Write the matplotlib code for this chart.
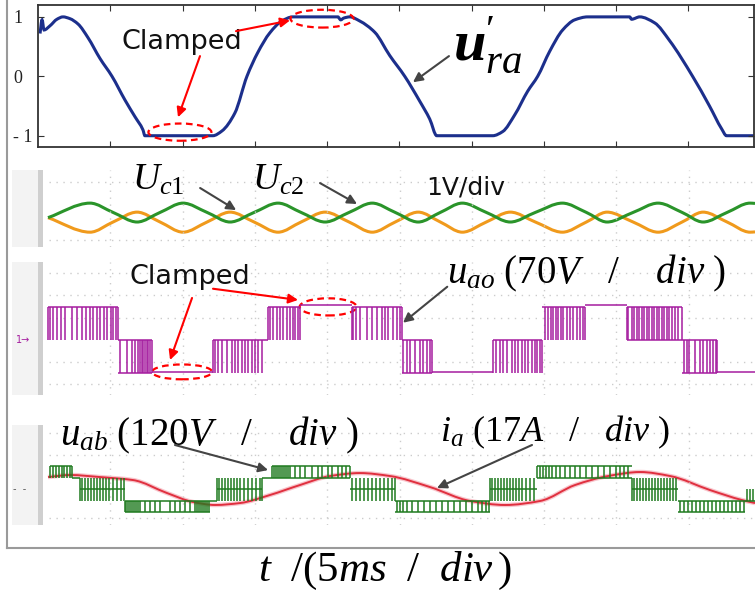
import numpy as np
import matplotlib
matplotlib.use('Agg')
import matplotlib.pyplot as plt
from matplotlib.path import Path
from matplotlib.patches import PathPatch, Ellipse
from matplotlib.lines import Line2D
from matplotlib.transforms import ScaledTranslation

# --- fonts ---
plt.rcParams.update({
    'mathtext.fontset': 'custom',
    'mathtext.rm': 'Liberation Serif',
    'mathtext.it': 'Liberation Serif:italic',
    'mathtext.bf': 'Liberation Serif:bold:italic',
})

# --- data (time in ms, 5 ms / div) ---
# top: modulation reference u'_ra (p.u.)
TOP_T = [0.14, 0.28, 0.42, 0.83, 1.31, 1.73, 2.21, 2.77, 3.46, 4.29,
         5.12, 6.02, 6.71, 7.26, 7.40, 12.10, 12.73, 13.62, 14.46, 15.21,
         16.04, 16.87, 17.63, 20.75, 20.95, 21.16, 21.58, 22.27, 23.31, 24.34,
         25.38, 26.42, 27.11, 27.60, 31.47, 32.16, 32.99, 33.89, 34.58, 35.41,
         36.31, 37.14, 38.04, 40.94, 41.08, 41.64, 42.67, 43.71, 45.30, 46.47,
         47.30, 47.65, 49.58]
TOP_U = [0.72, 0.95, 0.78, 0.85, 0.96, 1.0, 0.97, 0.88, 0.65, 0.30,
         0.0, -0.40, -0.68, -0.90, -1.0, -1.0, -0.92, -0.62, 0.0, 0.40,
         0.73, 0.93, 1.0, 1.0, 0.95, 0.98, 1.0, 0.93, 0.74, 0.35,
         0.0, -0.42, -0.72, -1.0, -1.0, -0.93, -0.65, -0.25, 0.0, 0.42,
         0.78, 0.95, 1.0, 1.0, 0.96, 1.0, 0.90, 0.60, 0.0, -0.50,
         -0.88, -1.0, -1.0]

# capacitor voltage ripple (extrema / mid points)
UC_T = [0.69, 3.60, 5.19, 6.85, 8.44, 10.03, 11.69, 13.28, 14.94, 16.60,
        18.19, 19.85, 21.51, 23.11, 24.70, 26.29, 27.82, 29.34, 31.00, 32.66,
        34.39, 36.26, 37.92, 39.35, 41.15, 42.88, 44.54, 45.99, 47.65, 49.24, 49.58]
UC1 = [-0.02, 0.48, 0.16, -0.17, 0.16, 0.48, 0.16, -0.17, 0.16, 0.48,
       0.16, -0.17, 0.16, 0.48, 0.16, -0.17, 0.16, 0.48, 0.16, -0.17,
       0.16, 0.48, 0.16, -0.17, 0.16, 0.48, 0.16, -0.17, 0.16, 0.48, 0.47]
UC2 = [-0.02, -0.52, -0.17, 0.17, -0.17, -0.52, -0.17, 0.17, -0.17, -0.52,
       -0.17, 0.17, -0.17, -0.52, -0.17, 0.17, -0.17, -0.52, -0.17, 0.17,
       -0.17, -0.52, -0.17, 0.17, -0.17, -0.52, -0.17, 0.17, -0.17, -0.52, -0.51]

# u_ao: three level pole voltage, segments of switching between two levels
UAO_START = [0.69, 5.53, 7.88, 12.10, 15.56, 15.91, 18.12, 21.72, 25.17, 27.25,
             31.47, 34.85, 37.83, 40.73, 44.54, 46.96]
UAO_END = [5.53, 7.88, 12.10, 15.56, 15.91, 18.12, 21.72, 25.17, 27.25, 31.47,
           34.85, 37.83, 40.73, 44.54, 46.96, 49.58]
UAO_HIGH = [1, 0, -0.97, 0, 0, 1, 1.05, 1, 0, -0.97, 0, 1, 1.05, 1, 0, -0.97]
UAO_LOW = [0, -1, -0.97, -1, 0, 0, 1.05, 0, -1, -0.97, -1, 0, 1.05, 0, -1, -0.97]
UAO_BASE = [[1], [0, -1], [-0.97], [0], [0], [1], [1.05], [1], [0, -1], [-0.97],
            [0], [1], [1.05], [1, 0], [0, -1], [-0.97]]
UAO_PULSES = [
    [0.69, 0.83, 1.04, 1.31, 1.59, 1.87, 2.35, 2.70, 3.04, 3.32, 3.60, 3.80, 4.08,
     4.29, 4.57, 4.77, 5.05, 5.19, 5.40, 5.53],
    [5.67, 6.15, 6.50, 6.71, 6.92, 7.05, 7.19, 7.26, 7.40, 7.54, 7.61, 7.75, 7.88],
    [],
    [12.10, 12.24, 12.45, 12.73, 13.07, 13.42, 13.62, 13.83, 14.11, 14.32, 14.53,
     14.80, 15.01, 15.22, 15.49],
    [],
    [15.91, 16.04, 16.25, 16.53, 16.74, 16.94, 17.22, 17.43, 17.64, 17.77, 17.98, 18.12],
    [],
    [21.72, 21.78, 21.99, 22.27, 22.75, 23.10, 23.44, 23.79, 23.99, 24.20, 24.55,
     24.83, 25.03, 25.17],
    [25.24, 25.52, 25.73, 26.07, 26.42, 26.63, 26.90, 27.11, 27.25],
    [],
    [31.47, 31.67, 31.95, 32.16, 32.44, 32.78, 32.99, 33.19, 33.47, 33.68, 33.89,
     34.16, 34.37, 34.51, 34.72, 34.85],
    [35.06, 35.27, 35.48, 35.61, 35.82, 35.96, 36.17, 36.31, 36.58, 36.79, 37.00,
     37.28, 37.48, 37.69, 37.83],
    [],
    [40.73, 40.80, 41.08, 41.22, 41.42, 41.56, 41.77, 41.91, 42.12, 42.26, 42.47,
     42.60, 42.81, 42.95, 43.16, 43.30, 43.50, 43.64, 43.85, 44.06, 44.26, 44.54],
    [44.67, 44.88, 45.02, 45.43, 45.78, 45.99, 46.27, 46.47, 46.68, 46.89, 46.96],
    [],
]

# u_ab: five level line voltage
UAB_START = [0.83, 2.35, 2.90, 6.02, 11.90, 12.38, 15.49, 16.18, 21.58, 24.69,
             31.26, 34.51, 41.08, 44.26, 48.89]
UAB_END = [2.35, 2.90, 6.02, 11.90, 12.38, 15.49, 16.18, 21.58, 24.69, 31.26,
           34.51, 41.08, 44.26, 48.89, 49.58]
UAB_HIGH = [2, 1, 1, -1, -1, 1, 1, 2, 1, -1, 1, 2, 1, -1, 0]
UAB_LOW = [1, 1, -1, -2, -1, -1, 1, 1, -1, -2, -1, 1, -1, -2, -1]
UAB_BASE = [[2], [1], [0], [-1, -2], [-1], [0], [1], [2, 1], [0], [-1, -2],
            [0], [2, 1], [0], [-1, -2], [-1]]
UAB_PULSES = [
    [0.83, 1.04, 1.25, 1.45, 1.66, 1.80, 2.01, 2.21, 2.35],
    [],
    [2.90, 3.04, 3.25, 3.46, 3.67, 3.87, 4.08, 4.29, 4.50, 4.70, 4.91, 5.19, 5.46,
     5.74, 5.95],
    [6.02, 6.09, 6.23, 6.36, 6.50, 6.64, 6.78, 6.92, 7.05, 7.40, 7.75, 8.09, 8.44,
     9.13, 9.47, 9.82, 10.17, 10.51, 10.86, 10.99, 11.13, 11.27, 11.41, 11.55,
     11.69, 11.83],
    [],
    [12.38, 12.52, 12.73, 12.93, 13.14, 13.35, 13.55, 13.76, 13.97, 14.25, 14.53,
     14.80, 15.08, 15.36, 15.49],
    [],
    [16.18, 16.32, 16.46, 16.60, 16.74, 16.87, 17.01, 17.15, 17.29, 17.43, 17.77,
     18.12, 18.46, 18.95, 19.36, 19.64, 20.06, 20.33, 20.75, 21.03, 21.30, 21.58],
    [21.72, 21.99, 22.27, 22.55, 22.82, 23.10, 23.38, 23.65, 23.93, 24.20, 24.48, 24.69],
    [24.83, 25.03, 25.24, 25.52, 25.86, 26.28, 26.69, 27.11, 27.52, 27.94, 28.36,
     28.77, 29.18, 29.60, 30.01, 30.43, 30.71, 30.98, 31.19],
    [31.26, 31.40, 31.60, 31.81, 32.02, 32.23, 32.43, 32.64, 32.85, 33.06, 33.26,
     33.47, 33.75, 34.02, 34.30],
    [34.51, 34.72, 34.92, 35.13, 35.34, 35.55, 35.82, 36.10, 36.45, 36.79, 37.14,
     37.48, 37.90, 38.31, 38.73, 39.14, 39.56, 39.97, 40.25, 40.52, 40.80],
    [41.08, 41.22, 41.42, 41.63, 41.84, 42.05, 42.26, 42.46, 42.67, 42.88, 43.08,
     43.29, 43.50, 43.71, 43.91, 44.12],
    [44.40, 44.67, 44.95, 45.23, 45.50, 45.78, 46.06, 46.33, 46.61, 46.89, 47.16,
     47.44, 47.72, 47.99, 48.27, 48.55, 48.82],
    [49.03, 49.24, 49.45],
]

# phase current i_a (divisions)
IA_T = [0.69, 2.21, 4.29, 6.57, 8.92, 10.72, 12.24, 13.97, 16.04, 18.12,
        20.19, 22.27, 24.34, 27.11, 29.88, 32.30, 34.72, 37.14, 39.42, 41.64,
        43.71, 46.47, 48.68, 49.58]
IA = [1.04, 1.22, 1.04, 0.78, -0.35, -1.13, -1.39, -1.22, -0.52, 0.35,
      1.13, 1.39, 1.13, 0.17, -1.04, -1.39, -1.04, 0.35, 1.13, 1.48,
      1.13, -0.09, -0.96, -1.22]

GRID_T = [5, 10, 15, 20, 25, 30, 35, 40, 45]


def px_rect(x0, y0, x1, y1):
    return [x0 / 755, 1 - y1 / 597, (x1 - x0) / 755, (y1 - y0) / 597]


def smooth_line(ax, xs, ys, **kw):
    # monotone cubic (pchip-style) bezier through the read points
    x = np.asarray(xs, float)
    y = np.asarray(ys, float)
    h = np.diff(x)
    d = np.diff(y) / h
    m = np.zeros_like(y)
    m[0], m[-1] = d[0], d[-1]
    for k in range(1, len(x) - 1):
        if d[k - 1] * d[k] > 0:
            w1 = 2 * h[k] + h[k - 1]
            w2 = h[k] + 2 * h[k - 1]
            m[k] = (w1 + w2) / (w1 / d[k - 1] + w2 / d[k])
    verts = [(x[0], y[0])]
    codes = [Path.MOVETO]
    for k in range(len(x) - 1):
        verts += [(x[k] + h[k] / 3, y[k] + m[k] * h[k] / 3),
                  (x[k + 1] - h[k] / 3, y[k + 1] - m[k + 1] * h[k] / 3),
                  (x[k + 1], y[k + 1])]
        codes += [Path.CURVE4] * 3
    ax.add_patch(PathPatch(Path(verts, codes), fill=False, **kw))


def draw_pwm(ax, starts, ends, highs, lows, bases, pulses, color, lw):
    for s, e, hi, lo, levels, pts in zip(starts, ends, highs, lows, bases, pulses):
        ax.hlines(levels, s, e, colors=color, lw=lw)
        if pts:
            ax.vlines(pts, lo, hi, colors=color, lw=lw)


def scope_background(ax, rows):
    ax.axvspan(-1.80, 0.0, color='#f3f3f3', lw=0)
    ax.axvspan(0.0, 0.32, color='#cfcfcf', lw=0)
    for t in GRID_T:
        ax.axvline(t, color='#cccccc', lw=1.0, ls=(0, (1, 4)))
    for r in rows:
        ax.axhline(r, xmin=0.05, color='#cccccc', lw=1.0, ls=(0, (1, 4)))
    ax.set_xlim(-1.80, 49.58)
    ax.axis('off')


fig = plt.figure(figsize=(7.55, 5.97), dpi=100)

# outer frame
fig.add_artist(Line2D([7 / 755, 7 / 755], [1, 1 - 548 / 597], transform=fig.transFigure,
                      color='#9a9a9a', lw=1.5))
fig.add_artist(Line2D([7 / 755, 1], [1 - 548 / 597, 1 - 548 / 597], transform=fig.transFigure,
                      color='#9a9a9a', lw=1.5))

# --- panel 1: u'_ra ---
ax1 = fig.add_axes(px_rect(38, 5, 754, 147))
smooth_line(ax1, TOP_T, TOP_U, ec='#1c2f8c', lw=2.2)
ax1.set_xlim(0, 49.55)
ax1.set_ylim(-1.19, 1.2)
ax1.set_xticks(GRID_T)
ax1.set_xticklabels([])
ax1.set_yticks([-1, 0, 1])
ax1.set_yticklabels(['- 1', '0', '1'], family='Liberation Serif', fontsize=13)
ax1.tick_params(direction='in', top=True, right=True, length=4, width=0.8,
                color='#333333', labelcolor='#222222', pad=11)
lab = ax1.get_yticklabels()[0]
lab.set_transform(lab.get_transform() + ScaledTranslation(7 / 72, 0, fig.dpi_scale_trans))
for sp in ax1.spines.values():
    sp.set_color('#333333')
    sp.set_linewidth(1.3)

ax1.text(9.96, 0.57, 'Clamped', fontsize=19.5, ha='center', va='center', color='#111111')
ax1.add_patch(Ellipse((9.82, -0.94), 4.36, 0.29, fill=False, ec='red', lw=1.6, ls=(0, (3, 2))))
ax1.add_patch(Ellipse((19.65, 0.97), 4.36, 0.30, fill=False, ec='red', lw=1.6, ls=(0, (3, 2))))
red_arrow = dict(arrowstyle='-|>', color='red', lw=1.5, mutation_scale=14, shrinkA=0, shrinkB=0)
ax1.annotate('', xy=(9.69, -0.69), xytext=(11.21, 0.34), arrowprops=red_arrow)
ax1.annotate('', xy=(17.44, 0.94), xytext=(13.70, 0.76), arrowprops=red_arrow)
gray_arrow = dict(arrowstyle='-|>', color='#444444', lw=1.5, mutation_scale=14, shrinkA=0, shrinkB=0)
ax1.annotate('', xy=(25.95, -0.10), xytext=(28.44, 0.34), arrowprops=gray_arrow)
ax1.text(28.7, 0.52, r"$\mathbf{u}^{\prime}_{ra}$", fontsize=42, ha='left', va='center')

# --- panel 2: capacitor voltages ---
ax2 = fig.add_axes(px_rect(12, 170, 755, 247))
ax2.set_facecolor('none')
scope_background(ax2, [1.2, -0.8])
ax2.set_ylim(-1.03, 1.62)
smooth_line(ax2, UC_T, UC2, ec='#f09a1c', lw=2.2)
smooth_line(ax2, UC_T, UC1, ec='#2a942a', lw=2.2)
ax2.text(8.3, 1.28, r'$U_{c1}$', fontsize=27, ha='center', va='center')
ax2.text(16.6, 1.28, r'$U_{c2}$', fontsize=27, ha='center', va='center')
ax2.annotate('', xy=(13.70, 0.24), xytext=(11.21, 1.0), arrowprops=gray_arrow)
ax2.annotate('', xy=(22.06, 0.45), xytext=(19.50, 1.17), arrowprops=gray_arrow)
ax2.text(29.6, 1.03, '1V/div', fontsize=18, ha='center', va='center', color='#111111')

# --- panel 3: u_ao ---
ax3 = fig.add_axes(px_rect(12, 262, 755, 395))
ax3.set_facecolor('none')
scope_background(ax3, [2.03, 1.36, 0.67, -0.67, -1.33])
ax3.set_ylim(-1.67, 2.36)
draw_pwm(ax3, UAO_START, UAO_END, UAO_HIGH, UAO_LOW, UAO_BASE, UAO_PULSES, '#a51d9f', 1.1)
ax3.text(-1.5, 0.0, '1→', fontsize=7, color='#a51d9f', ha='left', va='center')
ax3.text(10.51, 1.91, 'Clamped', fontsize=19.5, ha='center', va='center', color='#111111')
ax3.add_patch(Ellipse((9.96, -0.97), 4.15, 0.45, fill=False, ec='red', lw=1.6, ls=(0, (3, 2))))
ax3.add_patch(Ellipse((20.06, 1.0), 3.94, 0.52, fill=False, ec='red', lw=1.6, ls=(0, (3, 2))))
ax3.annotate('', xy=(9.13, -0.61), xytext=(10.65, 1.27), arrowprops=red_arrow)
ax3.annotate('', xy=(17.98, 1.21), xytext=(12.10, 1.55), arrowprops=red_arrow)
ax3.annotate('', xy=(25.24, 0.52), xytext=(28.30, 1.61), arrowprops=gray_arrow)
ax3.text(28.3, 2.0, r'$u_{ao}\ (70V\quad/\quad\ div\ )$', fontsize=28, ha='left', va='center')

# --- panel 4: u_ab and i_a ---
ax4 = fig.add_axes(px_rect(12, 425, 755, 525))
ax4.set_facecolor('none')
scope_background(ax4, [4.87, 2.96, -2.52])
ax4.set_ylim(-3.13, 5.57)
draw_pwm(ax4, UAB_START, UAB_END, UAB_HIGH, UAB_LOW, UAB_BASE, UAB_PULSES, '#1f7a1f', 1.1)
smooth_line(ax4, IA_T, IA, ec='#f4a0ac', lw=3.2, alpha=0.6)
smooth_line(ax4, IA_T, IA, ec='#e0303f', lw=1.4)
ax4.text(-1.75, 0.0, '-  -', fontsize=7, color='#555555', ha='left', va='center')
ax4.text(1.5, 4.7, r'$u_{ab}\ (120V\quad/\quad\ div\ )$', fontsize=28, ha='left', va='center')
ax4.text(27.8, 4.96, r'$i_a\ (17A\quad/\quad div\ )$', fontsize=26, ha='left', va='center')
ax4.annotate('', xy=(15.91, 1.65), xytext=(9.47, 3.83), arrowprops=gray_arrow)
ax4.annotate('', xy=(27.59, 0.09), xytext=(34.16, 3.83), arrowprops=gray_arrow)

fig.text(0.51, 0.043, r'$t\ \ /(5ms\ \ /\ \ div\,)$', fontsize=31, ha='center', va='center')

fig.savefig('out.png', dpi=100)
